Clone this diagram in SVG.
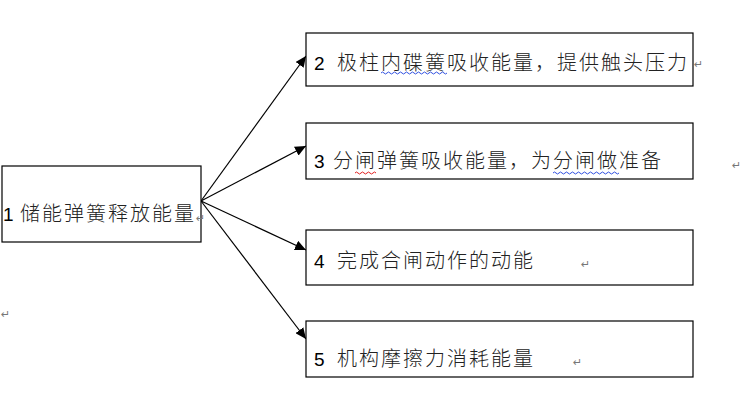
<svg xmlns="http://www.w3.org/2000/svg" width="750" height="401" viewBox="0 0 750 401">
<style>
.box{fill:#fff;stroke:#000;stroke-width:1.2}
.num{font-family:"Liberation Sans",Arial,sans-serif;font-size:19px;fill:#000}
.cjk{font-family:"Noto Sans CJK SC","Noto Sans",sans-serif;font-size:20px;font-weight:300;letter-spacing:2px;fill:#222}
.ret{font-family:"DejaVu Sans",sans-serif;font-size:11px;fill:#777}
.conn{stroke:#000;stroke-width:1.2;fill:none}
.wblue{stroke:#3050e0;stroke-width:1;fill:none}
.wred{stroke:#e02020;stroke-width:1;fill:none}
</style>
<defs>
<marker id="arr" markerUnits="userSpaceOnUse" markerWidth="12" markerHeight="10" refX="11" refY="5" orient="auto">
<path d="M0,0 L11,5 L0,10 Z" fill="#000"/>
</marker>
</defs>
<rect width="750" height="401" fill="#fff"/>
<g id="connectors">
<line class="conn" x1="201" y1="201" x2="306" y2="56" marker-end="url(#arr)"/>
<line class="conn" x1="201" y1="201" x2="306" y2="146" marker-end="url(#arr)"/>
<line class="conn" x1="201" y1="201" x2="306" y2="250" marker-end="url(#arr)"/>
<line class="conn" x1="201" y1="201" x2="306" y2="339" marker-end="url(#arr)"/>
</g>
<g id="node1">
<rect class="box" x="2" y="166" width="199" height="76"/>
<text class="num" x="3" y="221">1</text>
<text class="cjk" x="20" y="221">储能弹簧释放能量</text>
<text class="ret" x="196" y="222">↵</text>
</g>
<g id="node2">
<rect class="box" x="306" y="33" width="387" height="53"/>
<text class="num" x="314" y="70">2</text>
<text class="cjk" x="337" y="70">极柱内碟簧吸收能量，提供触头压力</text>
<path class="wblue" d="M381,73 q1.5,-2 3,0 t3,0 t3,0 t3,0 t3,0 t3,0 t3,0 t3,0 t3,0 t3,0 t3,0 t3,0 t3,0 t3,0 t3,0 t3,0 t3,0 t3,0 t3,0 t3,0 t3,0 t3,0"/>
<text class="ret" x="694" y="68">↵</text>
</g>
<g id="node3">
<rect class="box" x="306" y="123" width="387" height="56"/>
<text class="num" x="314" y="168">3</text>
<text class="cjk" x="333" y="168">分闸弹簧吸收能量，为分闸做准备</text>
<path class="wred" d="M355,173 q1.5,-2 3,0 t3,0 t3,0 t3,0 t3,0 t3,0 t3,0"/>
<path class="wblue" d="M553,173 q1.5,-2 3,0 t3,0 t3,0 t3,0 t3,0 t3,0 t3,0 t3,0 t3,0 t3,0 t3,0 t3,0 t3,0 t3,0 t3,0 t3,0 t3,0 t3,0 t3,0 t3,0 t3,0 t3,0"/>
<text class="ret" x="732" y="169">↵</text>
</g>
<g id="node4">
<rect class="box" x="306" y="230" width="387" height="55"/>
<text class="num" x="314" y="268">4</text>
<text class="cjk" x="337" y="268">完成合闸动作的动能</text>
<text class="ret" x="581" y="268">↵</text>
</g>
<g id="node5">
<rect class="box" x="306" y="321" width="387" height="56"/>
<text class="num" x="314" y="366">5</text>
<text class="cjk" x="337" y="366">机构摩擦力消耗能量</text>
<text class="ret" x="573" y="366">↵</text>
</g>
<text class="ret" x="1" y="318">↵</text>
</svg>
